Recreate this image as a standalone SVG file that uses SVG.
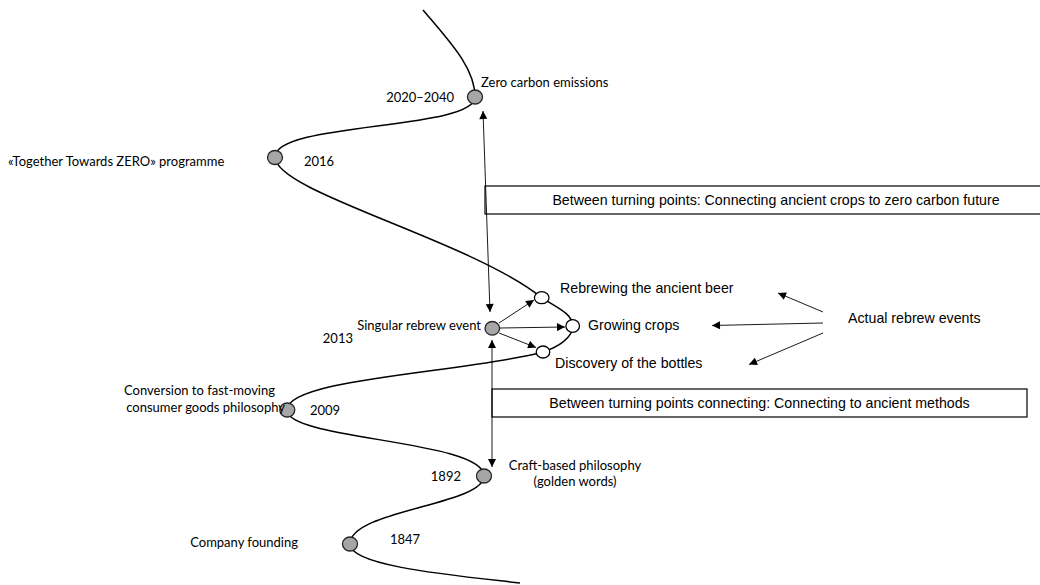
<svg xmlns="http://www.w3.org/2000/svg" width="1040" height="585" viewBox="0 0 1040 585">
<style>
  .curve { fill: none; stroke: #000; stroke-width: 1.5; }
  .arr { fill: none; stroke: #000; stroke-width: 0.9; }
  .gray { fill: #a6a6a6; stroke: #262626; stroke-width: 1.3; }
  .white { fill: #fff; stroke: #000; stroke-width: 1.3; }
  .cal { font-family: Lato, "Liberation Sans", sans-serif; font-size: 13px; fill: #000; dominant-baseline: central; }
  .ari { font-family: "Liberation Sans", Arial, sans-serif; font-size: 14.2px; fill: #000; dominant-baseline: central; }
  .box { fill: #fff; stroke: #000; stroke-width: 1.2; }
</style>
<defs>
  <marker id="ah" viewBox="0 0 10 10" refX="10" refY="5" markerWidth="9" markerHeight="8" markerUnits="userSpaceOnUse" orient="auto-start-reverse">
    <path d="M0,0 L10,5 L0,10 z" fill="#000"/>
  </marker>
</defs>
<rect width="1040" height="585" fill="#fff"/>

<g id="box-future">
  <rect class="box" x="485" y="186" width="590" height="28"/>
  <text class="ari" x="776" y="200" text-anchor="middle">Between turning points: Connecting ancient crops to zero carbon future</text>
</g>
<g id="box-ancient">
  <rect class="box" x="492" y="389" width="535" height="28"/>
  <text class="ari" x="759.5" y="403" text-anchor="middle">Between turning points connecting: Connecting to ancient methods</text>
</g>

<g id="connectors">
  <path class="curve" d="M423,10 C450,42 475,68 475,97 C475,130 275,122 275,157 C275,192 470,240 541.7,297.7 C558,308 572.7,314 572.7,326 C572.7,338 558,347 543,352 C470,372 287,378 287,410 C287,440 484,440 484,476 C484,505 350,510 350,544 C350,566 450,575 520,583"/>
  <line class="arr" x1="490" y1="312" x2="483" y2="111" marker-start="url(#ah)" marker-end="url(#ah)"/>
  <line class="arr" x1="492" y1="340" x2="492" y2="467" marker-start="url(#ah)" marker-end="url(#ah)"/>
  <line class="arr" x1="499" y1="323" x2="534" y2="300" marker-end="url(#ah)"/>
  <line class="arr" x1="500" y1="328" x2="565" y2="327" marker-end="url(#ah)"/>
  <line class="arr" x1="499" y1="333" x2="536" y2="347.5" marker-end="url(#ah)"/>
  <line class="arr" x1="823" y1="312" x2="778" y2="293" marker-end="url(#ah)"/>
  <line class="arr" x1="823" y1="323" x2="712" y2="325.5" marker-end="url(#ah)"/>
  <line class="arr" x1="823" y1="333" x2="749" y2="364.5" marker-end="url(#ah)"/>
</g>

<g id="node-2020">
  <ellipse class="gray" cx="475" cy="97" rx="7.5" ry="7"/>
  <text class="cal" x="481" y="82">Zero carbon emissions</text>
  <text class="cal" x="454" y="97" text-anchor="end">2020–2040</text>
</g>
<g id="node-2016">
  <ellipse class="gray" cx="275" cy="157.5" rx="7.5" ry="7"/>
  <text class="cal" x="304" y="161">2016</text>
  <text class="cal" x="8" y="161">«Together Towards ZERO» programme</text>
</g>
<g id="node-2013">
  <ellipse class="gray" cx="492.3" cy="328.3" rx="7.3" ry="6.8"/>
  <text class="cal" x="481" y="325" text-anchor="end">Singular rebrew event</text>
  <text class="cal" x="353" y="338" text-anchor="end">2013</text>
</g>
<g id="node-rebrewing">
  <ellipse class="white" cx="541.7" cy="297.7" rx="7.3" ry="6"/>
  <text class="ari" x="560" y="288">Rebrewing the ancient beer</text>
</g>
<g id="node-crops">
  <ellipse class="white" cx="572.7" cy="326" rx="6.8" ry="6.3"/>
  <text class="ari" x="588" y="325">Growing crops</text>
</g>
<g id="node-bottles">
  <ellipse class="white" cx="543" cy="352" rx="6.8" ry="6"/>
  <text class="ari" x="555" y="363">Discovery of the bottles</text>
</g>
<g id="label-actual">
  <text class="ari" x="848" y="318">Actual rebrew events</text>
</g>
<g id="node-2009">
  <ellipse class="gray" cx="287.3" cy="410" rx="7.5" ry="7"/>
  <text class="cal" x="275" y="390" text-anchor="end">Conversion to fast-moving</text>
  <text class="cal" x="285" y="407" text-anchor="end">consumer goods philosophy</text>
  <text class="cal" x="310" y="410">2009</text>
</g>
<g id="node-1892">
  <ellipse class="gray" cx="484" cy="476" rx="7.5" ry="7"/>
  <text class="cal" x="461" y="476" text-anchor="end">1892</text>
  <text class="cal" x="575" y="465" text-anchor="middle">Craft-based philosophy</text>
  <text class="cal" x="575" y="481" text-anchor="middle">(golden words)</text>
</g>
<g id="node-1847">
  <ellipse class="gray" cx="350" cy="544" rx="7.5" ry="7"/>
  <text class="cal" x="298" y="542" text-anchor="end">Company founding</text>
  <text class="cal" x="390" y="539">1847</text>
</g>
</svg>
